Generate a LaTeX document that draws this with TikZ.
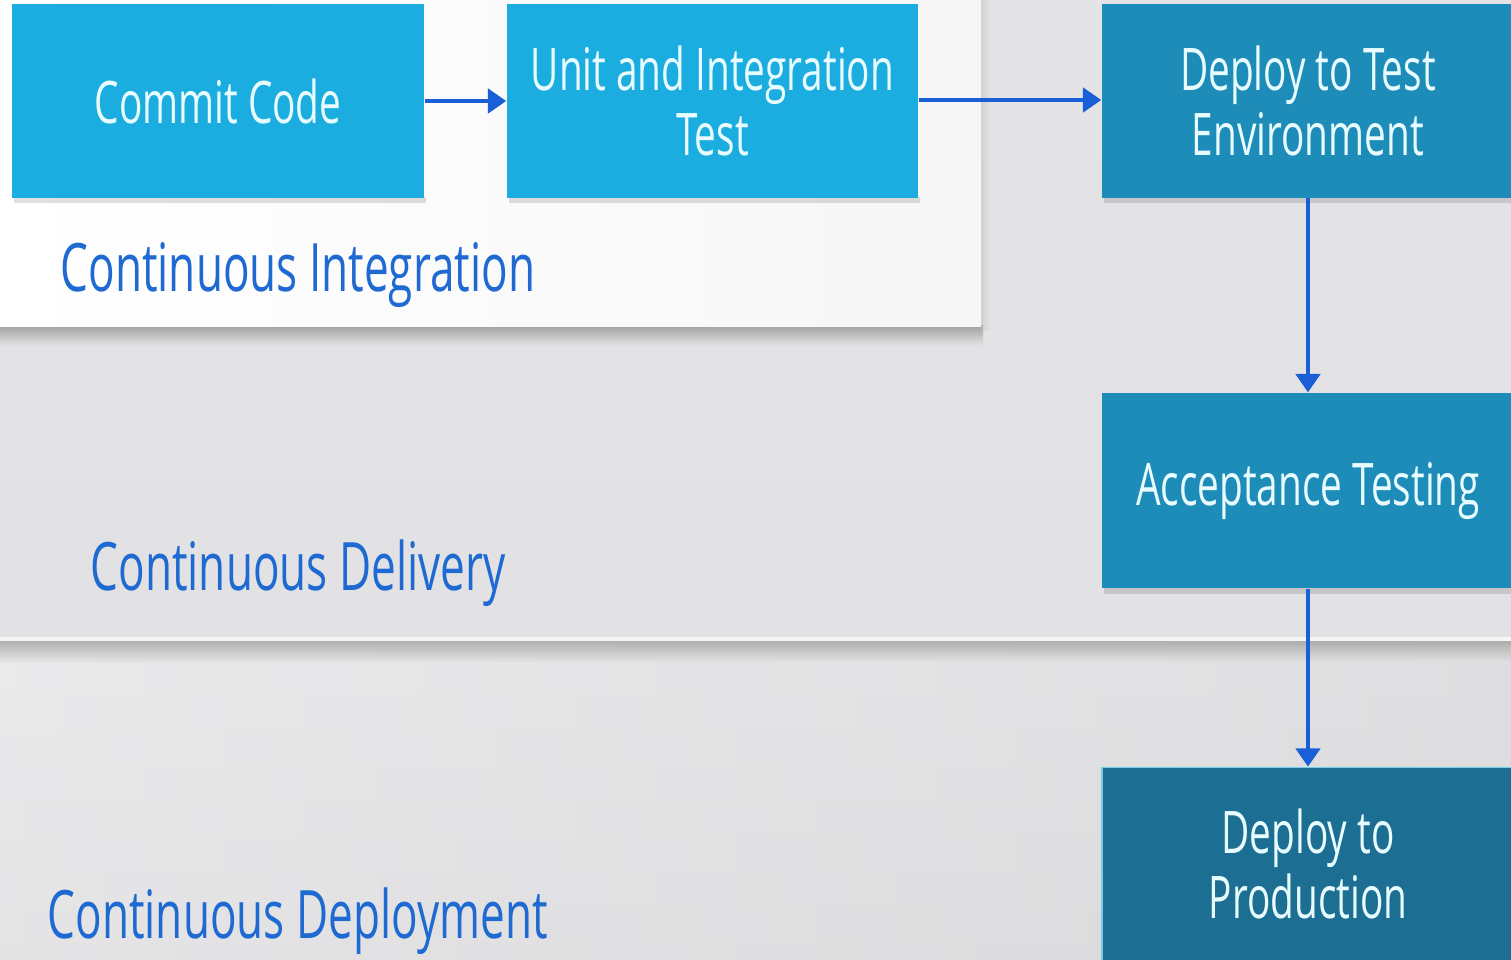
\documentclass[tikz,border=0pt]{standalone}
\usepackage{fontspec}
\setmainfont{Open Sans}[FakeStretch=0.66]
\usetikzlibrary{arrows.meta}
\definecolor{bgtop}{HTML}{E4E4E6}
\definecolor{bgband}{HTML}{E2E2E4}
\definecolor{bgbot}{HTML}{D9D9DB}
\definecolor{panel}{HTML}{F6F6F6}
\definecolor{lightbox}{HTML}{1CADE0}
\definecolor{midbox}{HTML}{1E8CB8}
\definecolor{darkbox}{HTML}{1C6F93}
\definecolor{boxtext}{HTML}{E8FCFF}
\definecolor{labelblue}{HTML}{1E6AD2}
\definecolor{arrowblue}{HTML}{1A5FD6}
\tikzset{
  stepbox/.style={rectangle, inner sep=0pt, align=center, text=boxtext,
    minimum width=4.12cm, minimum height=1.93cm,
    font=\fontsize{16.7}{18.7}\selectfont},
  boxshadow/.style={fill=black, opacity=0.12},
  phase/.style={anchor=base west, inner sep=0pt, text=labelblue,
    font=\fontsize{19}{22}\selectfont},
  flow/.style={draw=arrowblue, line width=0.9pt,
    -{Triangle[length=5.2pt,width=7pt]}}
}
\begin{document}
\begin{tikzpicture}[x=0.01cm,y=-0.01cm]
\useasboundingbox (0,0) rectangle (1511,960);
\clip (0,0) rectangle (1511,960);
% background
\shade[top color=bgtop, bottom color=bgband] (0,0) rectangle (1511,640);
\shade[top color=bgband, bottom color=bgbot] (0,640) rectangle (1511,960);
\shade[left color=white, right color=bgbot, opacity=0.3] (0,640) rectangle (1511,960);
% separator line with shadow
\shade[top color=black!45, bottom color=bgband, opacity=0.6] (0,641) rectangle (1511,662);
\fill[white!92!gray] (0,637) rectangle (1511,641);
% top panel with shadow
\shade[top color=black!55, bottom color=bgband, opacity=0.6] (0,325) rectangle (983,345);
\shade[left color=black!25, right color=bgtop, opacity=0.5] (981,0) rectangle (990,330);
\shade[left color=white, right color=panel] (0,0) rectangle (981,326);
% box shadows
\fill[boxshadow] (14,197) rectangle (426,203);
\fill[boxshadow] (509,197) rectangle (920,203);
\fill[boxshadow] (1104,197) rectangle (1511,203);
\fill[boxshadow] (1104,588) rectangle (1511,594);
% boxes
\node[stepbox, fill=lightbox] (commit) at (218,101) {Commit Code};
\node[stepbox, fill=lightbox, minimum width=4.11cm] (unit) at (712.5,101) {Unit and Integration\\Test};
\node[stepbox, fill=midbox] (dtest) at (1308,101) {Deploy to Test\\Environment};
\node[stepbox, fill=midbox, minimum height=1.95cm] (accept) at (1308,490.5) {Acceptance Testing};
\node[stepbox, fill=darkbox, draw=lightbox!60!white, line width=0.5pt] (prod) at (1308,864) {Deploy to\\Production};
% phase labels
\node[phase] (ci) at (60,291) {Continuous Integration};
\node[phase] (cdel) at (90,590) {Continuous Delivery};
\node[phase] (cdep) at (47,938) {Continuous Deployment};
% connectors
\draw[flow] (commit.east) -- (unit.west);
\draw[flow] (unit.east |- 0,100) -- (dtest.west |- 0,100);
\draw[flow] (dtest.south) -- (accept.north);
\draw[flow] (accept.south) -- (prod.north);
\end{tikzpicture}
\end{document}
